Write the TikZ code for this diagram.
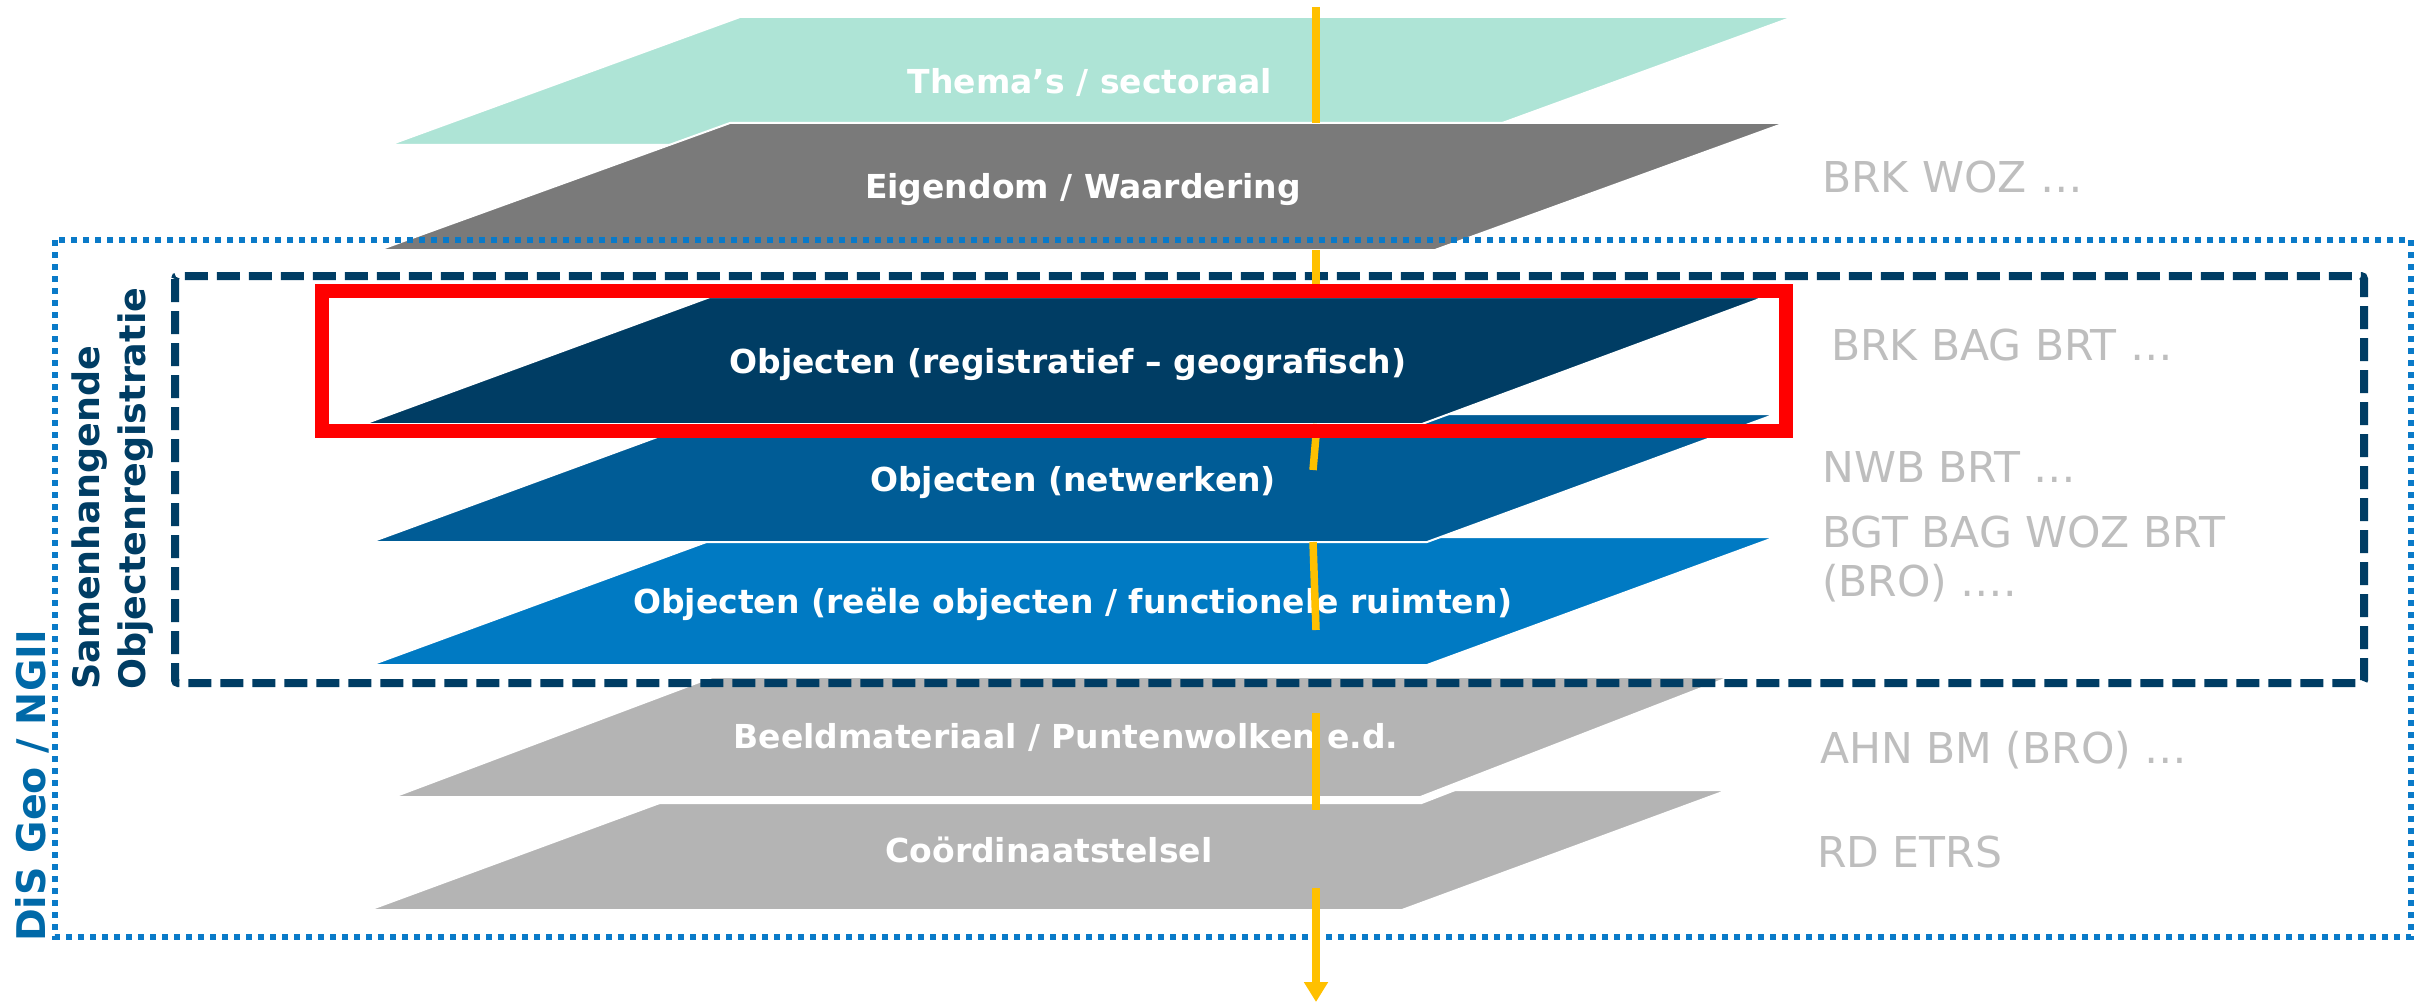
\documentclass[tikz,border=0pt]{standalone}
\usepackage{fontspec}
\setmainfont{DejaVu Sans}
\usetikzlibrary{arrows.meta}
\definecolor{mint}{RGB}{174,228,214}
\definecolor{eigengray}{RGB}{122,122,122}
\definecolor{navylayer}{RGB}{0,61,100}
\definecolor{midblue}{RGB}{0,92,150}
\definecolor{brightblue}{RGB}{0,122,195}
\definecolor{lightlayer}{RGB}{180,180,180}
\definecolor{dotblue}{RGB}{10,122,200}
\definecolor{labelgray}{RGB}{190,190,190}
\definecolor{disblue}{RGB}{0,105,168}
\definecolor{arroworange}{RGB}{255,192,0}
\begin{document}
\begin{tikzpicture}[x=1pt,y=-1pt,
  layer/.style={draw=white, line width=2pt, line join=miter},
  layertext/.style={text=white, font=\bfseries\fontsize{33}{40}\selectfont, anchor=base, inner sep=0pt},
  sidelabel/.style={text=labelgray, font=\fontsize{42.5}{50}\selectfont, anchor=base west, inner sep=0pt, align=left},
  orangeseg/.style={draw=arroworange, line width=7.5pt},
  dotframe/.style={draw=dotblue, line width=6pt, dash pattern=on 6pt off 6pt},
  dashframe/.style={draw=navylayer, line width=8pt, dash pattern=on 23pt off 9pt, rounded corners=3pt},
]
\useasboundingbox (0,0) rectangle (2419,1003);
\fill[white] (0,0) rectangle (2419,1003);

% layers
\filldraw[layer, fill=mint] (740,17) -- (1793,17) -- (1442,145) -- (389,145) -- cycle;
\node[layertext] (thema) at (1090,94) {Thema’s / sectoraal};

\filldraw[layer, fill=eigengray] (730,123) -- (1785,123) -- (1435,250) -- (379,250) -- cycle;
\node[layertext] (eigendom) at (1083,199) {Eigendom / Waardering};

\filldraw[layer, fill=brightblue] (720,537) -- (1776,537) -- (1427,665) -- (371,665) -- cycle;
\node[layertext] (reeel) at (1073,613) {Objecten (reële objecten / functionele ruimten)};

\filldraw[layer, fill=midblue] (720,414) -- (1776,414) -- (1427,542) -- (371,542) -- cycle;
\node[layertext] (netwerk) at (1073,491) {Objecten (netwerken)};

\filldraw[layer, fill=navylayer] (710,297) -- (1765,297) -- (1422,424) -- (364,424) -- cycle;
\node[layertext] (registr) at (1068,373) {Objecten (registratief – geografisch)};

\filldraw[layer, fill=lightlayer] (695,790) -- (1728,790) -- (1402,910) -- (369,910) -- cycle;
\node[layertext] (coord) at (1049,862) {Coördinaatstelsel};

\filldraw[draw=white, line width=8pt, line join=miter, fill=lightlayer] (712,674) -- (1746,674) -- (1421,800) -- (377,800) -- cycle;
\node[layertext] (beeld) at (1066,748) {Beeldmateriaal / Puntenwolken e.d.};

% frames
\draw[dotframe] (55,240) rectangle (2411,937);
\draw[dashframe] (175,276) rectangle (2364,683);

% side labels
\node[sidelabel] (l1) at (1822,193) {BRK WOZ …};
\node[sidelabel] (l2) at (1831,360) {BRK BAG BRT …};
\node[sidelabel] (l3) at (1822,482) {NWB BRT …};
\node[sidelabel, font=\fontsize{42.5}{49}\selectfont] (l4) at (1822,596) {BGT BAG WOZ BRT\\(BRO) ….};
\node[sidelabel] (l5) at (1820,763) {AHN BM (BRO) …};
\node[sidelabel] (l6) at (1817,867) {RD ETRS};

% vertical labels
\node[rotate=90, anchor=base west, inner sep=0pt, text=disblue,
      font=\bfseries\fontsize{39.5}{46}\selectfont] (dis) at (45,942) {DiS Geo / NGII};
\node[rotate=90, anchor=north west, inner sep=0pt, align=left, text=navylayer,
      font=\bfseries\fontsize{36.5}{46}\selectfont] (samen) at (72,690) {Samenhangende\\Objectenregistratie};

% orange arrow pieces
\coordinate (o1a) at (1316,7);    \coordinate (o1b) at (1316,123);
\coordinate (o2a) at (1316,250);  \coordinate (o2b) at (1316,285);
\coordinate (o3a) at (1317,424);  \coordinate (o3b) at (1313,470);
\coordinate (o4a) at (1313,542);  \coordinate (o4b) at (1316,630);
\coordinate (o5a) at (1316,713);  \coordinate (o5b) at (1316,810);
\coordinate (o6a) at (1316,888);  \coordinate (o6b) at (1316,1002);
\draw[orangeseg] (o1a) -- (o1b);
\draw[orangeseg] (o2a) -- (o2b);
\draw[orangeseg] (o3a) -- (o3b);
\draw[orangeseg] (o4a) -- (o4b);
\draw[orangeseg] (o5a) -- (o5b);
\draw[orangeseg, -{Triangle[length=20pt,width=23pt]}] (o6a) -- (o6b);

% highlight
\draw[red, line width=13.5pt] (322,291) rectangle (1786,431);
\end{tikzpicture}
\end{document}
